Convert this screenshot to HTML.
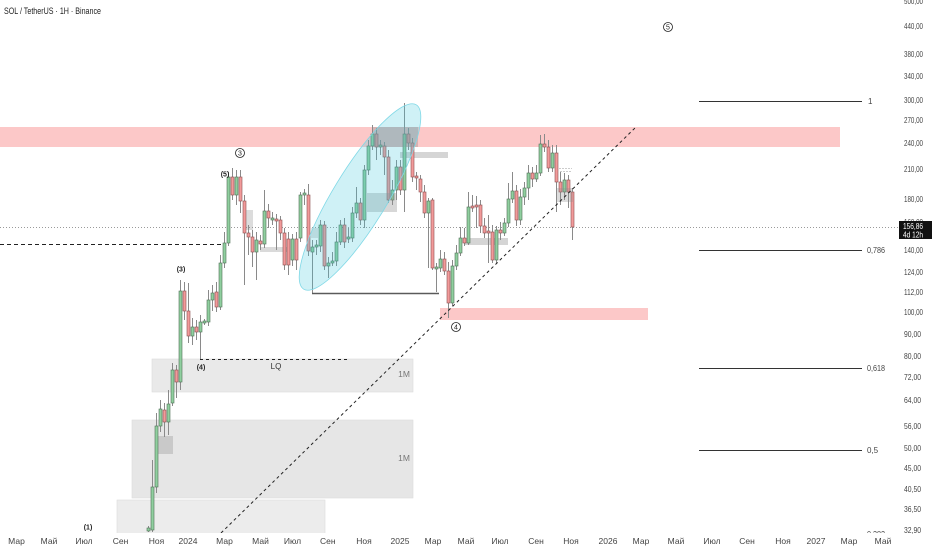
<!DOCTYPE html>
<html><head><meta charset="utf-8"><style>
html,body{margin:0;padding:0;background:#fff;}
svg{display:block;}
text{font-family:"Liberation Sans","Noto Sans CJK SC",sans-serif;}
.g{fill:#8fcf9f;stroke:#4f6e56;stroke-width:.6}
.r{fill:#f29a9a;stroke:#8a5050;stroke-width:.6}
.ax{font-size:8.5px;fill:#444;}
.tx{font-size:8.5px;fill:#444;text-anchor:middle;}
</style></head><body>
<svg width="932" height="550" viewBox="0 0 932 550" xmlns="http://www.w3.org/2000/svg">
<defs><clipPath id="pl"><rect x="0" y="0" width="898" height="533"/></clipPath></defs>
<rect width="932" height="550" fill="#fff"/>
<g clip-path="url(#pl)">
<!-- pink zones -->
<rect x="0" y="127" width="840" height="20" fill="#fcc8c8"/>
<rect x="440" y="308" width="208" height="12" fill="#fcc8c8"/>
<!-- 1M boxes -->
<rect x="152" y="359" width="261" height="33" fill="#e9e9e9" stroke="#dcdcdc" stroke-width=".6"/>
<rect x="132" y="420" width="281" height="78" fill="#e6e6e6" stroke="#dcdcdc" stroke-width=".6"/>
<rect x="117" y="500" width="208" height="34" fill="#ececec" stroke="#dcdcdc" stroke-width=".6"/>
<rect x="158" y="436" width="15" height="18" fill="#c9c9c9"/>
<text x="404" y="377" font-size="8.5" fill="#777" text-anchor="middle">1M</text>
<text x="404" y="461" font-size="8.5" fill="#777" text-anchor="middle">1M</text>
<!-- light gray bars -->
<rect x="400" y="152" width="48" height="6" fill="#d5d5d5"/>
<rect x="260" y="247" width="30" height="5" fill="#dadada"/>
<rect x="465" y="238" width="43" height="7" fill="#d5d5d5"/>
<!-- current price dotted -->
<line x1="0" y1="227.5" x2="898" y2="227.5" stroke="#9a9a9a" stroke-width="1" stroke-dasharray="1,2"/>
<!-- left dashed -->
<line x1="0" y1="244.5" x2="222" y2="244.5" stroke="#222" stroke-width="1" stroke-dasharray="4,3"/>
<!-- LQ dashed -->
<line x1="200" y1="359.5" x2="350" y2="359.5" stroke="#222" stroke-width="1" stroke-dasharray="3,3"/>
<!-- wicks -->
<path stroke="#8a8a8a" stroke-width="1" fill="none" d="M148.5 526V532M152.5 460V532M156.5 413V493M160.5 400V432M164.5 403V437M168.5 390V435M172.5 363V406M176.5 365V398M180.5 280V390M184.5 282V320M188.5 283V343M192.5 318V345M196.5 320V340M200.5 315V359M204.5 319V325M208.5 290V326M212.5 285V311M216.5 282V312M220.5 255V310M224.5 232V268M228.5 172V246M232.5 168V200M236.5 170V205M240.5 170V213M244.5 195V285M248.5 225V255M252.5 230V267M256.5 232V280M260.5 235V250M264.5 190V248M268.5 204V228M272.5 212V225M276.5 214V250M280.5 216V240M284.5 228V270M288.5 232V275M292.5 234V266M296.5 232V270M300.5 192V242M304.5 189V205M308.5 184V256M312.5 240V293M316.5 240V255M320.5 220V252M324.5 221V270M328.5 257V278M332.5 252V266M336.5 232V266M340.5 220V245M344.5 218V248M348.5 228V243M352.5 207V242M356.5 187V218M360.5 198V225M364.5 165V228M368.5 140V175M372.5 125V150M376.5 128V160M380.5 140V155M384.5 142V175M388.5 150V203M392.5 180V205M396.5 160V200M400.5 160V195M404.5 103V212M408.5 128V150M412.5 138V182M416.5 172V190M420.5 175V202M424.5 185V218M428.5 198V268M432.5 198V270M436.5 263V292M440.5 250V272M444.5 252V275M448.5 262V318M452.5 260V306M456.5 245V270M460.5 227V256M464.5 228V246M468.5 192V245M472.5 195V212M476.5 196V228M480.5 200V233M484.5 218V238M488.5 215V263M492.5 225V263M496.5 226V263M500.5 222V240M504.5 218V236M508.5 183V227M512.5 172V203M516.5 185V226M520.5 189V225M524.5 182V205M528.5 165V200M532.5 167V187M536.5 165V182M540.5 135V176M544.5 134V152M548.5 140V172M552.5 145V172M556.5 145V212M560.5 172V205M564.5 173V200M568.5 175V208M572.5 188V240"/>
<!-- bodies -->
<g>
<rect class="g" x="147" y="528" width="3" height="3"/>
<rect class="g" x="151" y="487" width="3" height="43"/>
<rect class="g" x="155" y="426" width="3" height="61"/>
<rect class="g" x="159" y="409" width="3" height="17"/>
<rect class="r" x="163" y="410" width="3" height="12"/>
<rect class="g" x="167" y="404" width="3" height="18"/>
<rect class="g" x="171" y="370" width="3" height="33"/>
<rect class="r" x="175" y="370" width="3" height="12"/>
<rect class="g" x="179" y="291" width="3" height="91"/>
<rect class="r" x="183" y="291" width="3" height="20"/>
<rect class="r" x="187" y="311" width="3" height="25"/>
<rect class="g" x="191" y="327" width="3" height="9"/>
<rect class="r" x="195" y="327" width="3" height="5"/>
<rect class="g" x="199" y="322" width="3" height="10"/>
<rect class="g" x="203" y="321" width="3" height="2"/>
<rect class="g" x="207" y="300" width="3" height="22"/>
<rect class="g" x="211" y="293" width="3" height="7"/>
<rect class="r" x="215" y="292" width="3" height="15"/>
<rect class="g" x="219" y="263" width="3" height="44"/>
<rect class="g" x="223" y="243" width="3" height="20"/>
<rect class="g" x="227" y="177" width="3" height="66"/>
<rect class="r" x="231" y="177" width="3" height="18"/>
<rect class="g" x="235" y="177" width="3" height="18"/>
<rect class="r" x="239" y="177" width="3" height="24"/>
<rect class="r" x="243" y="201" width="3" height="32"/>
<rect class="r" x="247" y="233" width="3" height="4"/>
<rect class="r" x="251" y="237" width="3" height="15"/>
<rect class="g" x="255" y="240" width="3" height="12"/>
<rect class="r" x="259" y="241" width="3" height="3"/>
<rect class="g" x="263" y="211" width="3" height="33"/>
<rect class="r" x="267" y="211" width="3" height="7"/>
<rect class="g" x="271" y="218" width="3" height="2"/>
<rect class="r" x="275" y="219" width="3" height="2"/>
<rect class="r" x="279" y="220" width="3" height="13"/>
<rect class="r" x="283" y="233" width="3" height="32"/>
<rect class="r" x="287" y="239" width="3" height="26"/>
<rect class="g" x="291" y="239" width="3" height="21"/>
<rect class="r" x="295" y="239" width="3" height="21"/>
<rect class="g" x="299" y="195" width="3" height="43"/>
<rect class="g" x="303" y="193" width="3" height="2"/>
<rect class="r" x="307" y="195" width="3" height="56"/>
<rect class="g" x="311" y="247" width="3" height="5"/>
<rect class="g" x="315" y="245" width="3" height="2"/>
<rect class="g" x="319" y="225" width="3" height="21"/>
<rect class="r" x="323" y="225" width="3" height="41"/>
<rect class="g" x="327" y="263" width="3" height="3"/>
<rect class="g" x="331" y="261" width="3" height="2"/>
<rect class="g" x="335" y="242" width="3" height="19"/>
<rect class="g" x="339" y="225" width="3" height="17"/>
<rect class="r" x="343" y="225" width="3" height="17"/>
<rect class="g" x="347" y="237" width="3" height="2"/>
<rect class="g" x="351" y="213" width="3" height="25"/>
<rect class="g" x="355" y="203" width="3" height="10"/>
<rect class="r" x="359" y="203" width="3" height="17"/>
<rect class="g" x="363" y="170" width="3" height="50"/>
<rect class="g" x="367" y="146" width="3" height="24"/>
<rect class="g" x="371" y="134" width="3" height="12"/>
<rect class="r" x="375" y="134" width="3" height="13"/>
<rect class="g" x="379" y="145" width="3" height="2"/>
<rect class="r" x="383" y="146" width="3" height="11"/>
<rect class="r" x="387" y="157" width="3" height="43"/>
<rect class="g" x="391" y="190" width="3" height="10"/>
<rect class="g" x="395" y="167" width="3" height="23"/>
<rect class="r" x="399" y="167" width="3" height="23"/>
<rect class="g" x="403" y="134" width="3" height="56"/>
<rect class="r" x="407" y="134" width="3" height="9"/>
<rect class="r" x="411" y="143" width="3" height="34"/>
<rect class="r" x="415" y="176" width="3" height="2"/>
<rect class="r" x="419" y="179" width="3" height="13"/>
<rect class="r" x="423" y="192" width="3" height="21"/>
<rect class="g" x="427" y="201" width="3" height="12"/>
<rect class="r" x="431" y="200" width="3" height="68"/>
<rect class="g" x="435" y="267" width="3" height="2"/>
<rect class="g" x="439" y="259" width="3" height="9"/>
<rect class="r" x="443" y="259" width="3" height="12"/>
<rect class="r" x="447" y="271" width="3" height="32"/>
<rect class="g" x="451" y="266" width="3" height="37"/>
<rect class="g" x="455" y="253" width="3" height="13"/>
<rect class="g" x="459" y="238" width="3" height="15"/>
<rect class="r" x="463" y="238" width="3" height="5"/>
<rect class="g" x="467" y="207" width="3" height="36"/>
<rect class="r" x="471" y="206" width="3" height="2"/>
<rect class="r" x="475" y="205" width="3" height="2"/>
<rect class="r" x="479" y="205" width="3" height="21"/>
<rect class="r" x="483" y="226" width="3" height="7"/>
<rect class="r" x="487" y="231" width="3" height="2"/>
<rect class="r" x="491" y="232" width="3" height="28"/>
<rect class="g" x="495" y="230" width="3" height="30"/>
<rect class="r" x="499" y="230" width="3" height="3"/>
<rect class="g" x="503" y="223" width="3" height="10"/>
<rect class="g" x="507" y="199" width="3" height="24"/>
<rect class="g" x="511" y="191" width="3" height="8"/>
<rect class="r" x="515" y="191" width="3" height="29"/>
<rect class="g" x="519" y="197" width="3" height="23"/>
<rect class="g" x="523" y="188" width="3" height="9"/>
<rect class="g" x="527" y="173" width="3" height="15"/>
<rect class="r" x="531" y="173" width="3" height="6"/>
<rect class="g" x="535" y="173" width="3" height="6"/>
<rect class="g" x="539" y="144" width="3" height="29"/>
<rect class="r" x="543" y="144" width="3" height="3"/>
<rect class="r" x="547" y="147" width="3" height="21"/>
<rect class="g" x="551" y="153" width="3" height="15"/>
<rect class="r" x="555" y="153" width="3" height="29"/>
<rect class="r" x="559" y="182" width="3" height="10"/>
<rect class="g" x="563" y="180" width="3" height="12"/>
<rect class="r" x="567" y="180" width="3" height="12"/>
<rect class="r" x="571" y="192" width="3" height="35"/>
</g>
<!-- gray overlay boxes -->
<rect x="373" y="127" width="45" height="20" fill="#8c8c8c" opacity=".35"/>
<rect x="367" y="193" width="30" height="19" fill="#8c8c8c" opacity=".35"/>
<rect x="246" y="210" width="7" height="20" fill="#8c8c8c" opacity=".3"/>
<rect x="311" y="228" width="7" height="10" fill="#8c8c8c" opacity=".25"/>
<rect x="556" y="188" width="17" height="14" fill="#8c8c8c" opacity=".3"/>
<path d="M559 168.5H572M560 171.5H571" stroke="#999" stroke-width=".6" stroke-dasharray="2,1"/>
<!-- low horizontal line -->
<line x1="312" y1="293.5" x2="439" y2="293.5" stroke="#5a5a5a" stroke-width="1.5"/>
<!-- ellipse -->
<ellipse cx="360" cy="197" rx="108" ry="27" transform="rotate(-58.6 360 197)" fill="#40c8dc" fill-opacity=".25" stroke="#7fd8e6" stroke-width=".8"/>
<!-- diagonal dashed -->
<line x1="221" y1="533" x2="637" y2="126" stroke="#222" stroke-width="1" stroke-dasharray="3,3"/>
<!-- fib lines -->
<g stroke="#333" stroke-width="1">
<line x1="699" y1="101.5" x2="862" y2="101.5"/>
<line x1="699" y1="250.5" x2="862" y2="250.5"/>
<line x1="699" y1="368.5" x2="862" y2="368.5"/>
<line x1="699" y1="450.5" x2="862" y2="450.5"/>
</g>
<g font-size="8" fill="#444">
<text x="868" y="104">1</text>
<text x="867" y="253" textLength="18" lengthAdjust="spacingAndGlyphs">0,786</text>
<text x="867" y="371" textLength="18" lengthAdjust="spacingAndGlyphs">0,618</text>
<text x="867" y="453">0,5</text>
<text x="867" y="537" textLength="18" lengthAdjust="spacingAndGlyphs">0,382</text>
</g>
<!-- wave labels -->
<g fill="none" stroke="#222" stroke-width=".8">
<circle cx="240" cy="153" r="4.5"/>
<circle cx="668" cy="27" r="4.5"/>
<circle cx="456" cy="327" r="4.5"/>
</g>
<g font-size="7" fill="#222" text-anchor="middle" font-weight="bold">
<text x="240" y="155.5" font-weight="normal">3</text>
<text x="668" y="29.5" font-weight="normal">5</text>
<text x="456" y="329.5" font-weight="normal">4</text>
<text x="225" y="176.5">(5)</text>
<text x="181" y="271.5">(3)</text>
<text x="201" y="369.5">(4)</text>
<text x="88" y="529.5">(1)</text>
</g>
<text x="276" y="369" font-size="8" fill="#333" text-anchor="middle">LQ</text>
</g>
<!-- title -->
<text x="4" y="14" font-size="9" fill="#222" textLength="97" lengthAdjust="spacingAndGlyphs">SOL / TetherUS · 1H · Binance</text>
<!-- right axis -->
<g class="ax">
<text x="904" y="4" textLength="19" lengthAdjust="spacingAndGlyphs">500,00</text>
<text x="904" y="29" textLength="19" lengthAdjust="spacingAndGlyphs">440,00</text>
<text x="904" y="57" textLength="19" lengthAdjust="spacingAndGlyphs">380,00</text>
<text x="904" y="79" textLength="19" lengthAdjust="spacingAndGlyphs">340,00</text>
<text x="904" y="103" textLength="19" lengthAdjust="spacingAndGlyphs">300,00</text>
<text x="904" y="123" textLength="19" lengthAdjust="spacingAndGlyphs">270,00</text>
<text x="904" y="146" textLength="19" lengthAdjust="spacingAndGlyphs">240,00</text>
<text x="904" y="172" textLength="19" lengthAdjust="spacingAndGlyphs">210,00</text>
<text x="904" y="202" textLength="19" lengthAdjust="spacingAndGlyphs">180,00</text>
<text x="904" y="225" textLength="19" lengthAdjust="spacingAndGlyphs">160,00</text>
<text x="904" y="253" textLength="19" lengthAdjust="spacingAndGlyphs">140,00</text>
<text x="904" y="275" textLength="19" lengthAdjust="spacingAndGlyphs">124,00</text>
<text x="904" y="295" textLength="19" lengthAdjust="spacingAndGlyphs">112,00</text>
<text x="904" y="315" textLength="19" lengthAdjust="spacingAndGlyphs">100,00</text>
<text x="904" y="337" textLength="17" lengthAdjust="spacingAndGlyphs">90,00</text>
<text x="904" y="359" textLength="17" lengthAdjust="spacingAndGlyphs">80,00</text>
<text x="904" y="380" textLength="17" lengthAdjust="spacingAndGlyphs">72,00</text>
<text x="904" y="403" textLength="17" lengthAdjust="spacingAndGlyphs">64,00</text>
<text x="904" y="429" textLength="17" lengthAdjust="spacingAndGlyphs">56,00</text>
<text x="904" y="451" textLength="17" lengthAdjust="spacingAndGlyphs">50,00</text>
<text x="904" y="471" textLength="17" lengthAdjust="spacingAndGlyphs">45,00</text>
<text x="904" y="492" textLength="17" lengthAdjust="spacingAndGlyphs">40,50</text>
<text x="904" y="512" textLength="17" lengthAdjust="spacingAndGlyphs">36,50</text>
<text x="904" y="533" textLength="17" lengthAdjust="spacingAndGlyphs">32,90</text>
</g>
<!-- current price box -->
<rect x="899" y="221" width="33" height="18" fill="#111"/>
<text x="903" y="229" font-size="8" fill="#fff" textLength="20" lengthAdjust="spacingAndGlyphs">156,86</text>
<text x="903" y="237.5" font-size="8" fill="#fff" textLength="20" lengthAdjust="spacingAndGlyphs">4d 12h</text>
<!-- bottom axis -->
<g class="tx">
<text x="16.5" y="544">Мар</text>
<text x="49" y="544">Май</text>
<text x="84" y="544">Июл</text>
<text x="120.5" y="544">Сен</text>
<text x="156.5" y="544">Ноя</text>
<text x="188" y="544">2024</text>
<text x="224.5" y="544">Мар</text>
<text x="260.5" y="544">Май</text>
<text x="292.5" y="544">Июл</text>
<text x="327.8" y="544">Сен</text>
<text x="364" y="544">Ноя</text>
<text x="400" y="544">2025</text>
<text x="433" y="544">Мар</text>
<text x="466" y="544">Май</text>
<text x="500" y="544">Июл</text>
<text x="536" y="544">Сен</text>
<text x="571" y="544">Ноя</text>
<text x="608" y="544">2026</text>
<text x="641" y="544">Мар</text>
<text x="676" y="544">Май</text>
<text x="712" y="544">Июл</text>
<text x="747" y="544">Сен</text>
<text x="783" y="544">Ноя</text>
<text x="816" y="544">2027</text>
<text x="849" y="544">Мар</text>
<text x="883" y="544">Май</text>
</g>
</svg>
</body></html>
